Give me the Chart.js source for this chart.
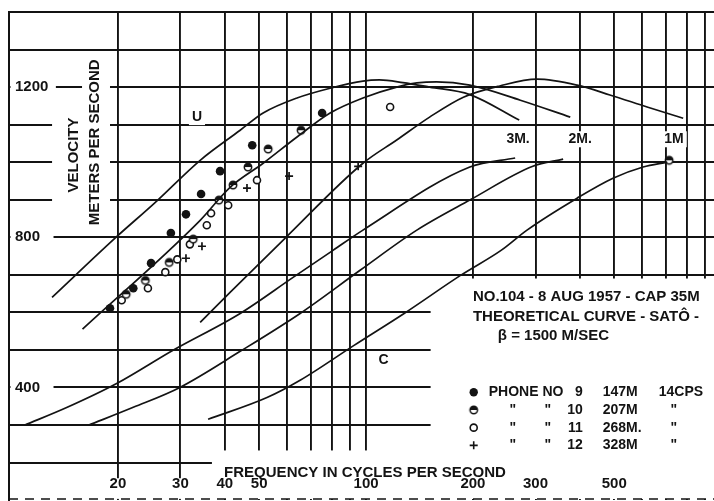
<!DOCTYPE html>
<html>
<head>
<meta charset="utf-8">
<script src="https://cdn.jsdelivr.net/npm/chart.js@4.4.1/dist/chart.umd.min.js"></script>
<style>
  html, body { margin: 0; padding: 0; background: #fff; }
</style>
</head>
<body>
<canvas id="chart" width="714" height="501"></canvas>
<script>
const INK = '#131313';
const FAMILY = "'Liberation Sans', Arial, sans-serif";

// log frequency grid (cps) and the values that get a label
const freqGrid = [20, 30, 40, 50, 60, 70, 80, 90, 100, 200, 300, 400, 500, 600, 700, 800, 900];
const freqLabels = [20, 30, 40, 50, 100, 200, 300, 500];
const velGrid = [100, 200, 300, 400, 500, 600, 700, 800, 900, 1000, 1100, 1200, 1300, 1400];
const velLabels = [400, 800, 1200];

// theoretical curves (Sato), [cps, m/sec]
const u3m = [[13.05, 640], [19.6, 797], [25.5, 893], [34.1, 1005], [44.2, 1085], [51.3, 1131], [63.9, 1171], [79.2, 1197], [98, 1216], [109, 1219], [127, 1212], [151, 1200], [196, 1180], [270, 1112]];
const u2m = [[15.9, 555], [34.1, 845], [41.4, 933], [51.3, 997], [63.9, 1067], [79.2, 1131], [98, 1171], [122, 1200], [139, 1211], [158, 1214], [196, 1205], [272, 1165], [376, 1120]];
const u1m = [[34.1, 573], [41.4, 653], [59.1, 797], [98, 997], [122, 1059], [151, 1120], [188, 1173], [238, 1203], [303, 1221], [393, 1205], [486, 1179], [619, 1147], [782, 1117]];
const c3m = [[10.9, 299], [14.4, 347], [19.9, 411], [28.6, 499], [44.2, 597], [62.3, 693], [80.7, 765], [98, 819], [196, 987], [263, 1011]];
const c2m = [[16.5, 299], [22.1, 347], [29.9, 400], [44.2, 496], [65.2, 597], [96.2, 712], [139, 819], [196, 899], [295, 989], [359, 1008]];
const c1m = [[35.9, 315], [52.6, 373], [65.2, 419], [92.5, 512], [128, 597], [185, 699], [240, 765], [284, 819], [393, 904], [496, 957], [603, 987], [705, 1000]];

// observed points, one list per phone
const phone9 = [[19.0, 611], [22.1, 664], [24.8, 731], [28.2, 811], [31.1, 861], [34.3, 915], [38.8, 976], [47.8, 1045], [75.2, 1131]];
const phone10 = [[21.1, 648], [23.9, 685], [27.9, 733], [32.6, 795], [38.5, 899], [42.2, 939], [46.5, 987], [53.0, 1035], [65.6, 1085], [714, 1005]];
const phone11 = [[20.5, 632], [24.3, 664], [27.2, 707], [29.4, 741], [31.9, 781], [35.6, 832], [36.6, 864], [40.9, 885], [49.3, 952], [116.9, 1147]];
const phone12 = [[31.1, 744], [34.5, 776], [46.2, 931], [60.7, 963], [95.0, 989]];

// legend table
const phoneNos = ['9', '10', '11', '12'];
const phoneDist = ['147M', '207M', '268M.', '328M'];
const phoneMarks = ['dot', 'half', 'ring', 'plus'];

// lettering placed on the sheet: [text, cps, m/sec]
const curveNotes = [['U', 33.4, 1120], ['C', 112, 472], ['3M.', 268, 1061], ['2M.', 401, 1061], ['1M', 737, 1061]];
const header = [['NO.104 - 8 AUG 1957 - CAP 35M', 200, 640], ['THEORETICAL CURVE - SATÔ -', 200, 587], ['β = 1500 M/SEC', 235, 536]];

// parts of the printed grid left blank on the sheet: [cps0, cps1, v0, v1]
const blanks = [[152, 955, 103, 690], [36.8, 955, 103, 232], [10.3, 955, 103, 158], [13.05, 19.0, 880, 1120], [15.85, 19.0, 880, 1262]];

const toXY = arr => arr.map(p => ({ x: p[0], y: p[1] }));

function halfDot(r) {
  const s = Math.ceil(r * 2 + 4);
  const c = document.createElement('canvas');
  c.width = s; c.height = s;
  const g = c.getContext('2d');
  g.lineWidth = 1.5;
  g.strokeStyle = INK;
  g.fillStyle = '#fff';
  g.beginPath(); g.arc(s / 2, s / 2, r, 0, Math.PI * 2); g.fill(); g.stroke();
  g.fillStyle = INK;
  g.beginPath(); g.arc(s / 2, s / 2, r, Math.PI, 0); g.closePath(); g.fill();
  return c;
}
const halfImg = halfDot(3.7);

function drawMarker(ctx, kind, x, y) {
  ctx.save();
  ctx.strokeStyle = INK;
  ctx.fillStyle = INK;
  ctx.lineWidth = 1.6;
  if (kind === 'dot') {
    ctx.beginPath(); ctx.arc(x, y, 4.2, 0, Math.PI * 2); ctx.fill();
  } else if (kind === 'half') {
    ctx.drawImage(halfImg, x - halfImg.width / 2, y - halfImg.height / 2);
  } else if (kind === 'ring') {
    ctx.fillStyle = '#fff';
    ctx.beginPath(); ctx.arc(x, y, 3.5, 0, Math.PI * 2); ctx.fill(); ctx.stroke();
  } else {
    ctx.beginPath();
    ctx.moveTo(x - 4, y); ctx.lineTo(x + 4, y);
    ctx.moveTo(x, y - 4); ctx.lineTo(x, y + 4);
    ctx.stroke();
  }
  ctx.restore();
}

function text(ctx, str, x, y, align, pad) {
  ctx.textAlign = align || 'left';
  ctx.textBaseline = 'middle';
  if (pad) {
    const w = ctx.measureText(str).width;
    const x0 = align === 'center' ? x - w / 2 : (align === 'right' ? x - w : x);
    ctx.fillStyle = '#fff';
    ctx.fillRect(x0 - pad, y - 8, w + pad * 2, 16);
  }
  ctx.fillStyle = INK;
  ctx.fillText(str, x, y);
}

const sheet = {
  id: 'sheet',
  beforeDatasetsDraw(chart) {
    const { ctx, chartArea, scales: { x, y } } = chart;
    ctx.save();

    // erase the grid where the sheet has none
    ctx.fillStyle = '#fff';
    blanks.forEach(b => {
      const x0 = x.getPixelForValue(b[0]), x1 = x.getPixelForValue(b[1]);
      const y0 = y.getPixelForValue(b[3]), y1 = y.getPixelForValue(b[2]);
      ctx.fillRect(x0, y0, x1 - x0, y1 - y0);
    });

    // torn-off bottom edge of the sheet
    ctx.strokeStyle = INK;
    ctx.lineWidth = 1.3;
    ctx.setLineDash([9, 7]);
    ctx.beginPath();
    ctx.moveTo(chartArea.left, chartArea.bottom - 1);
    ctx.lineTo(chartArea.right, chartArea.bottom - 1);
    ctx.stroke();
    ctx.setLineDash([]);

    // velocity labels sit inside the frame
    ctx.font = `bold 15px ${FAMILY}`;
    velLabels.forEach(v => {
      const py = y.getPixelForValue(v);
      const w = ctx.measureText(String(v)).width;
      ctx.fillStyle = '#fff';
      ctx.fillRect(chartArea.left + 1.5, py - 8, w + (v === 1200 ? 12 : 18), 16);
      text(ctx, String(v), chartArea.left + 6, py, 'left');
    });

    // frequency labels along the bottom
    freqLabels.forEach(f => text(ctx, String(f), x.getPixelForValue(f), y.getPixelForValue(144), 'center'));

    // axis titles
    text(ctx, 'FREQUENCY IN CYCLES PER SECOND', x.getPixelForValue(99.3), y.getPixelForValue(171), 'center');
    [['VELOCITY', 15.05, 1019], ['METERS PER SECOND', 17.25, 1053]].forEach(t => {
      ctx.save();
      ctx.translate(x.getPixelForValue(t[1]), y.getPixelForValue(t[2]));
      ctx.rotate(-Math.PI / 2);
      text(ctx, t[0], 0, 0, 'center');
      ctx.restore();
    });

    // curve names
    ctx.font = `bold 14px ${FAMILY}`;
    curveNotes.forEach(n => text(ctx, n[0], x.getPixelForValue(n[1]), y.getPixelForValue(n[2]), 'center', 3));

    // header block
    ctx.font = `bold 15px ${FAMILY}`;
    header.forEach(h => text(ctx, h[0], x.getPixelForValue(h[1]), y.getPixelForValue(h[2]), 'left'));

    // phone table
    ctx.font = `bold 14px ${FAMILY}`;
    const lx = x.getPixelForValue(201);
    const ly = y.getPixelForValue(387);
    phoneNos.forEach((no, i) => {
      const ry = ly + i * 17.7;
      drawMarker(ctx, phoneMarks[i], lx, ry);
      if (i === 0) {
        text(ctx, 'PHONE NO', lx + 15, ry, 'left');
        text(ctx, '14CPS', lx + 185, ry, 'left');
      } else {
        text(ctx, '"', lx + 39, ry, 'center');
        text(ctx, '"', lx + 74, ry, 'center');
        text(ctx, '"', lx + 200, ry, 'center');
      }
      text(ctx, no, lx + 109, ry, 'right');
      text(ctx, phoneDist[i], lx + 129, ry, 'left');
    });

    ctx.restore();
  }
};

const curve = data => ({
  type: 'line',
  data: toXY(data),
  borderColor: INK,
  borderWidth: 1.7,
  pointRadius: 0,
  fill: false,
  cubicInterpolationMode: 'monotone'
});

new Chart(document.getElementById('chart'), {
  type: 'scatter',
  data: {
    datasets: [
      curve(u3m), curve(u2m), curve(u1m), curve(c3m), curve(c2m), curve(c1m),
      { label: 'PHONE NO 9', data: toXY(phone9), pointStyle: 'circle', pointRadius: 4.3, backgroundColor: INK, borderColor: INK, borderWidth: 0 },
      { label: 'PHONE NO 10', data: toXY(phone10), pointStyle: halfImg, pointRadius: 3.7 },
      { label: 'PHONE NO 11', data: toXY(phone11), pointStyle: 'circle', pointRadius: 3.5, backgroundColor: '#fff', borderColor: INK, borderWidth: 1.6 },
      { label: 'PHONE NO 12', data: toXY(phone12), pointStyle: 'cross', pointRadius: 4, borderColor: INK, borderWidth: 1.7 }
    ]
  },
  options: {
    responsive: false,
    animation: false,
    events: [],
    layout: { autoPadding: false, padding: { left: 9, top: 12, right: 0, bottom: 1 } },
    plugins: { legend: { display: false }, tooltip: { enabled: false }, title: { display: false } },
    scales: {
      x: {
        type: 'logarithmic',
        min: 9.87,
        max: 955,
        afterBuildTicks: s => { s.ticks = freqGrid.map(v => ({ value: v })); },
        afterFit: s => { s.height = 0; },
        ticks: { display: false },
        grid: { color: INK, lineWidth: 1.9, drawTicks: false },
        border: { display: false }
      },
      y: {
        type: 'linear',
        min: 100,
        max: 1400,
        afterBuildTicks: s => { s.ticks = velGrid.map(v => ({ value: v })); },
        afterFit: s => { s.width = 0; },
        ticks: { display: false },
        grid: {
          color: c => (c.tick && c.tick.value === 100 ? 'rgba(0,0,0,0)' : INK),
          lineWidth: 1.9,
          drawTicks: false
        },
        border: { display: true, color: INK, width: 2 }
      }
    }
  },
  plugins: [sheet]
});
</script>
</body>
</html>
